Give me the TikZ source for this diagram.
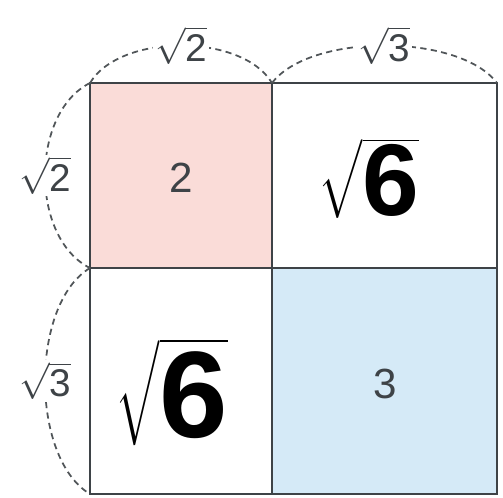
\documentclass[tikz,border=0pt]{standalone}
\usepackage{amsmath}
\usepackage{fontspec}
\setmainfont{Liberation Sans}
\usepackage{tikz}
\usetikzlibrary{positioning}
\definecolor{lightpink}{HTML}{FADCD8}
\definecolor{lightblue}{HTML}{D5EAF7}
\definecolor{gridgray}{HTML}{3E4347}

\begin{document}
\begin{tikzpicture}[
  x=0.02cm,y=-0.02cm,
  cell/.style={draw=gridgray,line width=1.2pt},
  num/.style={text=gridgray,font=\fontsize{24}{24}\selectfont},
  side/.style={text=gridgray,fill=white,inner sep=1pt,font=\fontsize{22}{22}\selectfont},
  hand/.style={text=black,font=\fontsize{58}{58}\selectfont\bfseries},
  arc/.style={dash pattern=on 3.5pt off 2.5pt,line width=1pt,draw=gridgray!90}
]
\useasboundingbox (0,0) rectangle (503,497);
\coordinate (tl) at (90,83);
\coordinate (tm) at (272,83);
\coordinate (tr) at (497,83);
\coordinate (ml) at (90,268);
\coordinate (mm) at (272,268);
\coordinate (bl) at (90,494);
\coordinate (br) at (497,494);
% cells
\fill[lightpink] (tl) rectangle (mm);
\fill[lightblue] (mm) rectangle (br);
\draw[cell] (tl) rectangle (br);
\draw[cell] (tm) -- (272,494);
\draw[cell] (ml) -- (497,268);
% products
\node[num] (aa) at (181,178) {2};
\node[num] (bb) at (385,384) {3};
\node[hand] (ab) at (369,178) {$\sqrt{\text{6}}$};
\node[hand,font=\fontsize{70}{70}\selectfont\bfseries] (ba) at (172,392) {$\sqrt{\text{6}}$};
% side lengths
\draw[arc] (tl) .. controls (120,33) and (242,33) .. (tm)
  node[side,pos=0.5] (wa) {$\sqrt{\text{2}}$};
\draw[arc] (tm) .. controls (310,33) and (459,33) .. (tr)
  node[side,pos=0.5] (wb) {$\sqrt{\text{3}}$};
\draw[arc] (tl) .. controls (30,113) and (30,238) .. (ml)
  node[side,pos=0.5] (ha) {$\sqrt{\text{2}}$};
\draw[arc] (ml) .. controls (30,304) and (30,458) .. (bl)
  node[side,pos=0.5] (hb) {$\sqrt{\text{3}}$};
\end{tikzpicture}
\end{document}
